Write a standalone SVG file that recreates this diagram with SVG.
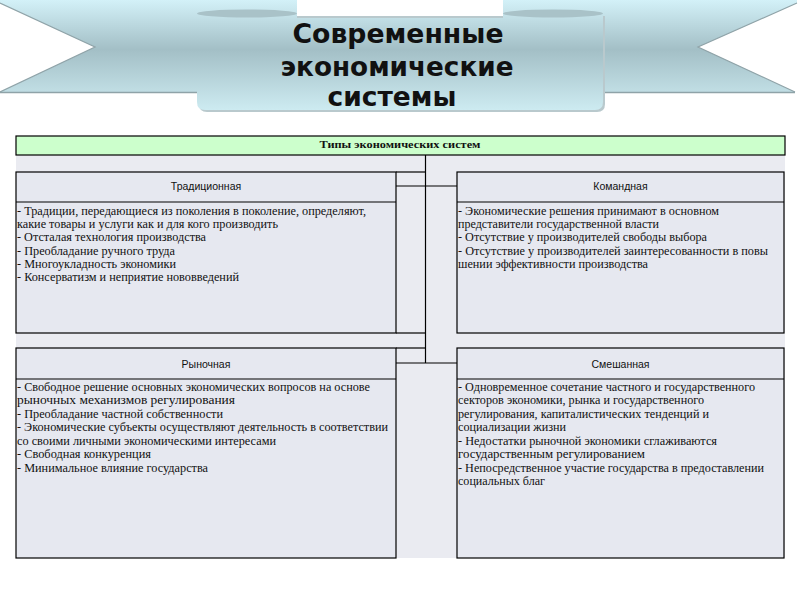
<svg xmlns="http://www.w3.org/2000/svg" width="800" height="600" viewBox="0 0 800 600">
<defs>
<linearGradient id="rib" gradientUnits="userSpaceOnUse" x1="0" y1="0" x2="0" y2="110">
<stop offset="0" stop-color="#d3f1f8"/>
<stop offset="0.45" stop-color="#a3bfc6"/>
<stop offset="1" stop-color="#cdebf1"/>
</linearGradient>
<style>
.box{fill:#e6e8f0;stroke:#000;stroke-width:1.2}
.ttl{font-family:"Liberation Sans",Arial,sans-serif;font-size:10.5px;fill:#111;text-anchor:middle}
.bd{font-family:"Liberation Serif","Times New Roman",serif;font-size:12px;fill:#111}
.cn{stroke:#000;stroke-width:1.2;fill:none}
.big{font-family:"DejaVu Sans",Verdana,sans-serif;font-weight:bold;font-size:27px;fill:#111;text-anchor:middle}
</style>
</defs>
<rect width="800" height="600" fill="#ffffff"/>
<g id="banner">
<polygon points="0,0 297,0 297,92 0,92 95,47 0,3" fill="url(#rib)"/>
<polygon points="797,0 503,0 503,92 795,92 698,47 797,3" fill="url(#rib)"/>
<polyline points="0,3 95,47 0,92" fill="none" stroke="#8fa3a8" stroke-width="1.2"/>
<polyline points="797,3 698,47 795,92" fill="none" stroke="#8fa3a8" stroke-width="1.2"/>
<line x1="0" y1="92.5" x2="197" y2="92.5" stroke="#8fa3a8" stroke-width="1.5"/>
<line x1="603" y1="92.5" x2="795" y2="92.5" stroke="#8fa3a8" stroke-width="1.5"/>
<path d="M199,16 L605,16 L605,104 Q605,112 597,112 L207,112 Q199,112 199,104 Z" fill="#b9c9cd"/>
<path d="M197,14 L297,14 L297,18 L503,18 L503,14 L603,14 L603,102 Q603,110 595,110 L205,110 Q197,110 197,102 Z" fill="url(#rib)"/>
<ellipse cx="247" cy="13.5" rx="50" ry="4" fill="#a9c2c8"/>
<ellipse cx="553" cy="13.5" rx="50" ry="4" fill="#a9c2c8"/>
<text class="big" x="398" y="43" textLength="211" lengthAdjust="spacingAndGlyphs">Современные</text>
<text class="big" x="397" y="76" textLength="233" lengthAdjust="spacingAndGlyphs">экономические</text>
<text class="big" x="392" y="106" textLength="129" lengthAdjust="spacingAndGlyphs">системы</text>
</g>
<rect x="16" y="155" width="769" height="403" fill="#eaebf1"/>
<g id="header">
<rect x="16" y="136" width="769" height="19" fill="#ccffcc" stroke="#000" stroke-width="1.2"/>
<text x="400" y="147.5" font-family="Liberation Serif,'Times New Roman',serif" font-weight="bold" font-size="11px" fill="#111" text-anchor="middle" textLength="161" lengthAdjust="spacingAndGlyphs">Типы экономических систем</text>
</g>
<g id="connectors">
<line class="cn" x1="425.5" y1="155" x2="425.5" y2="363"/>
<line class="cn" x1="396" y1="186" x2="457" y2="186"/>
<line class="cn" x1="396" y1="363" x2="457" y2="363"/>
<line class="cn" x1="396" y1="172" x2="425.5" y2="172"/>
<line class="cn" x1="396" y1="333" x2="425.5" y2="333"/>
<line class="cn" x1="396" y1="348" x2="425.5" y2="348"/>
</g>
<g id="traditional">
<rect class="box" x="16" y="172" width="380" height="161"/>
<line class="cn" x1="16" y1="202" x2="396" y2="202"/>
<text class="ttl" x="206" y="190">Традиционная</text>
<text class="bd" x="17" y="215" textLength="349" lengthAdjust="spacingAndGlyphs">- Традиции, передающиеся из поколения в поколение, определяют,</text>
<text class="bd" x="17" y="228.2" textLength="261" lengthAdjust="spacingAndGlyphs">какие товары и услуги как и для кого производить</text>
<text class="bd" x="17" y="241.4" textLength="189" lengthAdjust="spacingAndGlyphs">- Отсталая технология производства</text>
<text class="bd" x="17" y="254.6" textLength="158" lengthAdjust="spacingAndGlyphs">- Преобладание ручного труда</text>
<text class="bd" x="17" y="267.8" textLength="159" lengthAdjust="spacingAndGlyphs">- Многоукладность экономики</text>
<text class="bd" x="17" y="281" textLength="222" lengthAdjust="spacingAndGlyphs">- Консерватизм и неприятие нововведений</text>
</g>
<g id="command">
<rect class="box" x="457" y="172" width="327" height="161"/>
<line class="cn" x1="457" y1="202" x2="784" y2="202"/>
<text class="ttl" x="620.5" y="190">Командная</text>
<text class="bd" x="458" y="215" textLength="261" lengthAdjust="spacingAndGlyphs">- Экономические решения принимают в основном</text>
<text class="bd" x="458" y="228.2" textLength="201" lengthAdjust="spacingAndGlyphs">представители государственной власти</text>
<text class="bd" x="458" y="241.4" textLength="249" lengthAdjust="spacingAndGlyphs">- Отсутствие у производителей свободы выбора</text>
<text class="bd" x="458" y="254.6" textLength="310" lengthAdjust="spacingAndGlyphs">- Отсутствие у производителей заинтересованности в повы</text>
<text class="bd" x="458" y="267.8" textLength="190" lengthAdjust="spacingAndGlyphs">шении эффективности производства</text>
</g>
<g id="market">
<rect class="box" x="16" y="348" width="380" height="210"/>
<line class="cn" x1="16" y1="379" x2="396" y2="379"/>
<text class="ttl" x="206" y="367.5">Рыночная</text>
<text class="bd" x="17" y="390.5" textLength="353" lengthAdjust="spacingAndGlyphs">- Свободное решение основных экономических вопросов на основе</text>
<text class="bd" x="17" y="404" textLength="218" lengthAdjust="spacingAndGlyphs">рыночных механизмов регулирования</text>
<text class="bd" x="17" y="417.5" textLength="206" lengthAdjust="spacingAndGlyphs">- Преобладание частной собственности</text>
<text class="bd" x="17" y="431" textLength="371" lengthAdjust="spacingAndGlyphs">- Экономические субъекты осуществляют деятельность в соответствии</text>
<text class="bd" x="17" y="444.5" textLength="259" lengthAdjust="spacingAndGlyphs">со своими личными экономическими интересами</text>
<text class="bd" x="17" y="458" textLength="134" lengthAdjust="spacingAndGlyphs">- Свободная конкуренция</text>
<text class="bd" x="17" y="471.5" textLength="191" lengthAdjust="spacingAndGlyphs">- Минимальное влияние государства</text>
</g>
<g id="mixed">
<rect class="box" x="457" y="348" width="327" height="210"/>
<line class="cn" x1="457" y1="379" x2="784" y2="379"/>
<text class="ttl" x="620.5" y="367.5">Смешанная</text>
<text class="bd" x="458" y="390.5" textLength="297" lengthAdjust="spacingAndGlyphs">- Одновременное сочетание частного и государственного</text>
<text class="bd" x="458" y="404" textLength="246" lengthAdjust="spacingAndGlyphs">секторов экономики, рынка и государственного</text>
<text class="bd" x="458" y="417.5" textLength="251" lengthAdjust="spacingAndGlyphs">регулирования, капиталистических тенденций и</text>
<text class="bd" x="458" y="431" textLength="108" lengthAdjust="spacingAndGlyphs">социализации жизни</text>
<text class="bd" x="458" y="444.5" textLength="259" lengthAdjust="spacingAndGlyphs">- Недостатки рыночной экономики сглаживаются</text>
<text class="bd" x="458" y="458" textLength="187" lengthAdjust="spacingAndGlyphs">государственным регулированием</text>
<text class="bd" x="458" y="471.5" textLength="306" lengthAdjust="spacingAndGlyphs">- Непосредственное участие государства в предоставлении</text>
<text class="bd" x="458" y="485" textLength="87" lengthAdjust="spacingAndGlyphs">социальных благ</text>
</g>
</svg>
